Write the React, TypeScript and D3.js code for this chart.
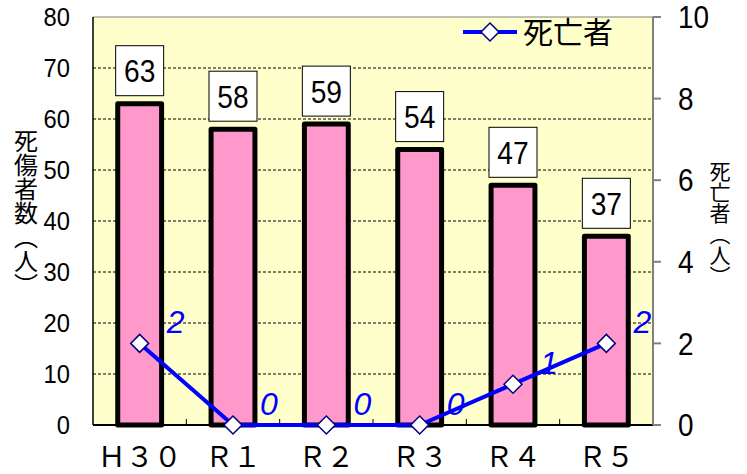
import React from "react";
import * as d3 from "d3";

const categories = ["Ｈ３０", "Ｒ１", "Ｒ２", "Ｒ３", "Ｒ４", "Ｒ５"];
const casualties = [63, 58, 59, 54, 47, 37];
const deaths = [2, 0, 0, 0, 1, 2];
const leftTicks = [0, 10, 20, 30, 40, 50, 60, 70, 80];
const rightTicks = [0, 2, 4, 6, 8, 10];
const gridTicks = [10, 20, 30, 40, 50, 60, 70];
const leftTitle = "死傷者数（人）";
const rightTitle = "死亡者（人）";
const legendLabel = "死亡者";

const W = 747;
const H = 474;
const plot = { left: 93, right: 653, top: 17, bottom: 425 };
const NUM_FONT = "'Liberation Sans', Arial, sans-serif";
const JP_FONT = "'Noto Sans CJK JP', sans-serif";

function NText(props: {
  x: number;
  y: number;
  sx: number;
  size: number;
  anchor?: string;
  dy?: string;
  italic?: boolean;
  fill?: string;
  children: React.ReactNode;
}) {
  const { x, y, sx, size, anchor = "middle", dy, italic, fill = "#000", children } = props;
  return (
    <text
      transform={`translate(${x},${y}) scale(${sx},1)`}
      textAnchor={anchor}
      dy={dy}
      fontFamily={NUM_FONT}
      fontSize={size}
      fontStyle={italic ? "italic" : "normal"}
      fill={fill}
    >
      {children}
    </text>
  );
}

export default function App() {
  const x = d3.scaleBand<string>().domain(categories).range([plot.left, plot.right]).paddingInner(0).paddingOuter(0);
  const yL = d3.scaleLinear().domain([0, 80]).range([plot.bottom, plot.top]);
  const yR = d3.scaleLinear().domain([0, 10]).range([plot.bottom, plot.top]);
  const bw = x.bandwidth() * 0.47;
  const cx = (c: string) => (x(c) as number) + x.bandwidth() / 2;
  const line = d3
    .line<number>()
    .x((_, i) => cx(categories[i]))
    .y((d) => yR(d));
  const diamond = (px: number, py: number, r: number) =>
    `M${px},${py - r}L${px + r},${py}L${px},${py + r}L${px - r},${py}Z`;

  return (
    <svg width={W} height={H} style={{ position: "absolute", left: 0, top: 0, background: "#fff" }}>
      <rect x={plot.left} y={plot.top} width={plot.right - plot.left} height={plot.bottom - plot.top} fill="#FFFFCC" />
      <line x1={plot.left} x2={plot.right} y1={plot.top} y2={plot.top} stroke="#808080" strokeWidth={1} />
      {gridTicks.map((t) => (
        <line key={t} x1={plot.left} x2={plot.right} y1={yL(t)} y2={yL(t)} stroke="#000" strokeWidth={1} strokeDasharray="3,2" />
      ))}
      {categories.slice(1).map((c) => (
        <line key={c} x1={x(c)} x2={x(c)} y1={plot.bottom} y2={plot.bottom - 6} stroke="#000" strokeWidth={1} />
      ))}
      {categories.map((c, i) => (
        <rect
          key={c}
          x={cx(c) - bw / 2}
          y={yL(casualties[i])}
          width={bw}
          height={plot.bottom - yL(casualties[i])}
          fill="#FF99CC"
          stroke="#000"
          strokeWidth={5}
          strokeLinejoin="round"
        />
      ))}
      <line x1={plot.left} x2={plot.left} y1={plot.top} y2={plot.bottom} stroke="#000" strokeWidth={1.5} />
      <line x1={plot.left} x2={plot.right} y1={plot.bottom} y2={plot.bottom} stroke="#000" strokeWidth={2} />
      <line x1={plot.right} x2={plot.right} y1={plot.top} y2={plot.bottom} stroke="#808080" strokeWidth={2} />
      {rightTicks.map((t) => (
        <line key={t} x1={plot.right} x2={plot.right + 8} y1={yR(t)} y2={yR(t)} stroke="#808080" strokeWidth={2} />
      ))}
      {categories.map((c, i) => {
        const top = yL(casualties[i]) - 8;
        return (
          <g key={c}>
            <rect x={cx(c) - 24} y={top - 50} width={48} height={50} fill="#fff" stroke="#000" strokeWidth={1} />
            <NText x={cx(c)} y={top - 13.5} sx={0.88} size={32}>
              {casualties[i]}
            </NText>
          </g>
        );
      })}
      <path d={line(deaths) || ""} fill="none" stroke="#0000FF" strokeWidth={4} strokeLinejoin="round" />
      {deaths.map((d, i) => (
        <path key={i} d={diamond(cx(categories[i]), yR(d), 9)} fill="#fff" stroke="#000080" strokeWidth={1.5} />
      ))}
      {deaths.map((d, i) => (
        <NText key={"l" + i} x={cx(categories[i]) + 36} y={yR(d) - 10} sx={1} size={32} italic fill="#0000FF">
          {d}
        </NText>
      ))}
      {leftTicks.map((t) => (
        <NText key={t} x={70} y={yL(t)} dy="0.36em" anchor="end" sx={0.95} size={25}>
          {t}
        </NText>
      ))}
      {rightTicks.map((t) => (
        <NText key={t} x={678} y={yR(t)} dy="0.36em" anchor="start" sx={0.9} size={31}>
          {t}
        </NText>
      ))}
      {categories.map((c) => (
        <text key={c} x={cx(c)} y={467} textAnchor="middle" fontFamily={JP_FONT} fontSize={28} fill="#000">
          {c}
        </text>
      ))}
      <text
        x={26}
        y={213}
        textAnchor="middle"
        fontFamily={JP_FONT}
        fontSize={24}
        fill="#000"
        style={{ writingMode: "vertical-rl" } as any}
      >
        {leftTitle}
      </text>
      <text
        x={720}
        y={224}
        textAnchor="middle"
        fontFamily={JP_FONT}
        fontSize={21}
        fill="#000"
        style={{ writingMode: "vertical-rl" } as any}
      >
        {rightTitle}
      </text>
      <line x1={463} x2={517} y1={32} y2={32} stroke="#0000FF" strokeWidth={4} />
      <path d={diamond(490, 32, 9)} fill="#fff" stroke="#000080" strokeWidth={1.5} />
      <text x={523} y={32} dy="0.36em" fontFamily={JP_FONT} fontSize={30} fill="#000">
        {legendLabel}
      </text>
    </svg>
  );
}
